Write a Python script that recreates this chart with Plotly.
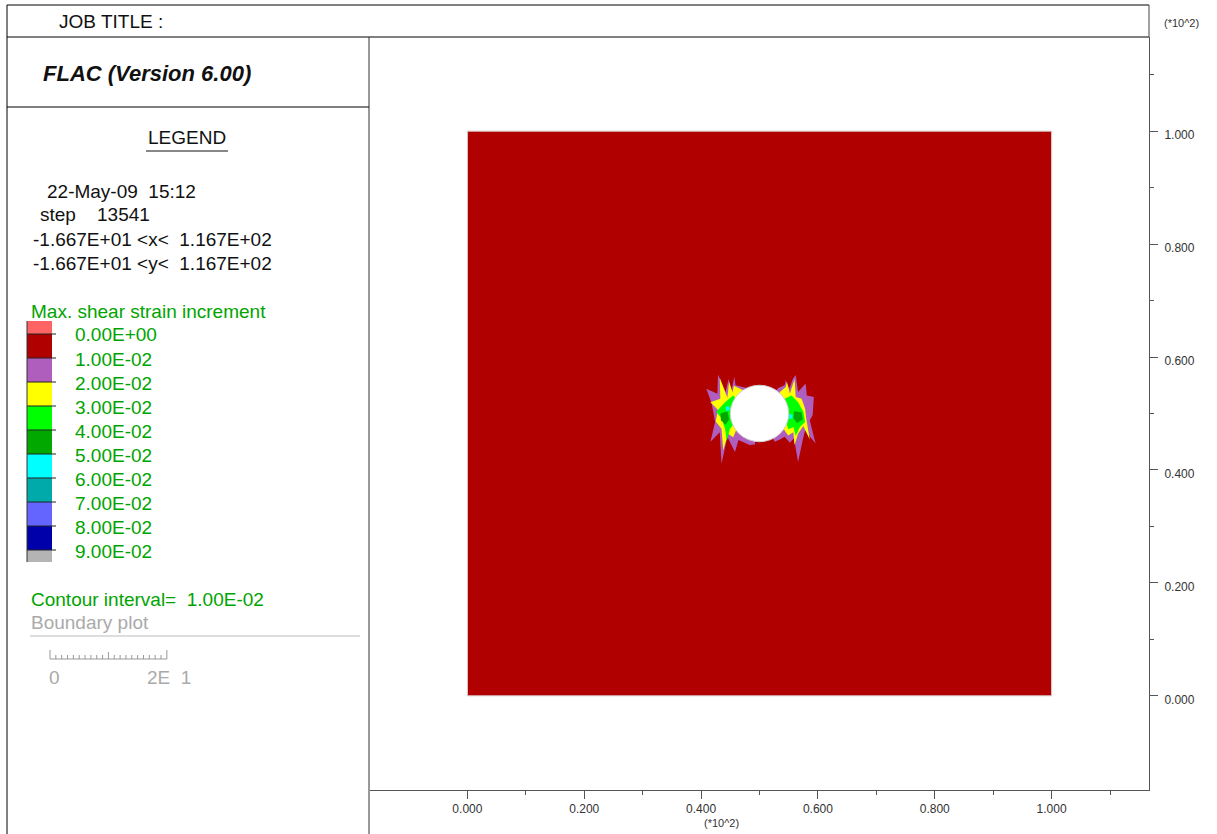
import plotly.graph_objects as go

# ---------------------------------------------------------------- data
# model extent (m) and tunnel
grid_x = [0.0, 100.0]
grid_y = [0.0, 100.0]
tunnel_center = (50.0, 50.0)
tunnel_radius = 5.0

# contour levels of max. shear strain increment and band colours
levels = [0.00, 0.01, 0.02, 0.03, 0.04, 0.05, 0.06, 0.07, 0.08, 0.09]
level_labels = ["0.00E+00", "1.00E-02", "2.00E-02", "3.00E-02", "4.00E-02",
                "5.00E-02", "6.00E-02", "7.00E-02", "8.00E-02", "9.00E-02"]
band_colors = ["#FF6464", "#B00000", "#B05EBE", "#FFFF00", "#00FF00", "#00A800",
               "#00FFFF", "#00AAAA", "#6464FF", "#0000AA", "#B4B4B4"]

# shear-strain zones around the opening: (band index, x list, y list)
zone_purple_left_x = [47.8, 45.9, 45.7, 45.2, 44.7, 44.2, 42.9, 42.8, 40.9, 41.8, 42.4, 41.6,
                      43.2, 43.5, 44.5, 45.8, 46.4, 48.3, 49.2, 50.0]
zone_purple_left_y = [54.5, 55.0, 56.5, 54.1, 56.1, 53.8, 56.9, 53.5, 54.4, 51.8, 48.5, 45.0,
                      46.7, 41.1, 45.9, 43.2, 45.3, 44.4, 44.5, 50.0]
zone_purple_right_x = [53.2, 54.3, 54.5, 55.1, 55.7, 56.2, 56.6, 57.9, 58.1, 59.3, 59.1, 58.6,
                       59.6, 57.8, 57.4, 56.6, 55.9, 55.2, 54.3, 53.5, 52.6, 50.0]
zone_purple_right_y = [54.5, 55.0, 55.9, 54.4, 56.1, 56.8, 53.8, 55.3, 53.2, 52.9, 49.7, 48.8,
                       44.7, 47.0, 45.3, 41.4, 45.6, 44.8, 45.9, 45.4, 45.0, 50.0]
zone_yellow_left_x = [47.2, 45.6, 45.4, 44.8, 44.5, 43.2, 43.3, 41.6, 42.9, 42.5, 43.5, 43.8,
                      44.6, 45.5, 46.1, 46.4, 46.2, 46.9]
zone_yellow_left_y = [54.1, 54.9, 53.7, 55.6, 52.8, 56.3, 52.6, 52.0, 50.6, 48.6, 47.3, 43.5,
                      46.4, 45.8, 47.3, 49.7, 52.0, 53.5]
zone_yellow_right_x = [53.5, 54.5, 54.7, 55.2, 56.0, 56.2, 57.2, 57.8, 58.0, 58.6, 57.5, 56.6,
                       56.0, 55.8, 54.9, 54.1, 53.8, 53.6]
zone_yellow_right_y = [53.8, 54.7, 55.6, 53.5, 56.1, 52.9, 52.6, 50.9, 49.1, 45.4, 47.8, 46.4,
                       44.4, 46.7, 46.1, 47.3, 49.7, 52.0]
zone_green_left_x = [45.5, 44.1, 42.6, 43.5, 44.1, 44.4, 44.9, 45.5, 45.9, 46.2]
zone_green_left_y = [53.2, 52.0, 50.3, 49.1, 47.3, 45.1, 47.2, 48.0, 50.3, 52.3]
zone_green_right_x = [54.3, 55.5, 56.6, 57.5, 57.8, 56.9, 56.2, 55.8, 54.9, 54.5, 54.1]
zone_green_right_y = [52.6, 53.2, 52.0, 50.3, 48.5, 47.6, 46.0, 47.6, 47.2, 48.8, 50.9]
zone_dkgreen_left_x = [43.3, 44.5, 44.8, 44.2, 43.4]
zone_dkgreen_left_y = [50.0, 50.4, 49.0, 48.0, 48.8]
zone_dkgreen_right_x = [55.9, 57.2, 57.4, 56.4, 55.8]
zone_dkgreen_right_y = [50.4, 50.2, 48.9, 48.3, 49.2]
zone_cyan_left_x = [44.2, 44.8, 44.9, 44.3]
zone_cyan_left_y = [51.2, 51.3, 50.6, 50.4]
zone_cyan_right_x = [55.1, 55.7, 55.6, 55.1]
zone_cyan_right_y = [49.9, 49.8, 49.0, 49.1]

zones = [
    (2, zone_purple_left_x, zone_purple_left_y),
    (2, zone_purple_right_x, zone_purple_right_y),
    (3, zone_yellow_left_x, zone_yellow_left_y),
    (3, zone_yellow_right_x, zone_yellow_right_y),
    (4, zone_green_left_x, zone_green_left_y),
    (4, zone_green_right_x, zone_green_right_y),
    (5, zone_dkgreen_left_x, zone_dkgreen_left_y),
    (5, zone_dkgreen_right_x, zone_dkgreen_right_y),
    (6, zone_cyan_left_x, zone_cyan_left_y),
    (6, zone_cyan_right_x, zone_cyan_right_y),
]

# axis ticks (m); labels are shown in units of 10^2 m
axis_range = [-16.67, 116.67]
major_ticks = [0, 20, 40, 60, 80, 100]
minor_ticks = [10, 30, 50, 70, 90, 110]
tick_text = [f"{v / 100:.3f}" for v in major_ticks]

legend_lines = ["22-May-09\u00a0\u00a015:12",
                "step\u00a0\u00a0\u00a0\u00a013541",
                "-1.667E+01 &lt;x&lt;\u00a0\u00a01.167E+02",
                "-1.667E+01 &lt;y&lt;\u00a0\u00a01.167E+02"]

# ---------------------------------------------------------------- page geometry
W, H = 1217, 834
PLOT_L, PLOT_R, PLOT_T, PLOT_B = 370, 1149, 37, 790
FONT = "Arial, 'Liberation Sans', sans-serif"
GREEN = "#00A400"


def fx(px):
    return px / W


def fy(py):
    return 1 - py / H


fig = go.Figure()

# contoured zones
for band, xs, ys in zones:
    fig.add_trace(go.Scatter(x=xs, y=ys, mode="lines", fill="toself",
                             fillcolor=band_colors[band], line=dict(width=0),
                             hoverinfo="skip", showlegend=False))

shapes = []
annotations = []

# background band (0 - 1E-02) covering the model
shapes.append(dict(type="rect", xref="x", yref="y", layer="below",
                   x0=grid_x[0], x1=grid_x[1], y0=grid_y[0], y1=grid_y[1],
                   fillcolor=band_colors[1], line=dict(color="#D8D0D0", width=1)))
# excavated opening
cx, cy = tunnel_center
shapes.append(dict(type="circle", xref="x", yref="y", layer="above",
                   x0=cx - tunnel_radius, x1=cx + tunnel_radius,
                   y0=cy - tunnel_radius, y1=cy + tunnel_radius,
                   fillcolor="white", line=dict(color="#D0D0D0", width=1)))


def pline(x0, y0, x1, y1, color="#000000", width=1):
    shapes.append(dict(type="line", xref="paper", yref="paper",
                       x0=fx(x0), y0=fy(y0), x1=fx(x1), y1=fy(y1),
                       line=dict(color=color, width=width)))


def ptext(text, x, y, size=19, color="#111111", anchor="left", **kw):
    annotations.append(dict(text=text, xref="paper", yref="paper",
                            x=fx(x), y=fy(y), xanchor=anchor, yanchor="middle",
                            showarrow=False, borderpad=0,
                            font=dict(family=FONT, size=size, color=color), **kw))


# page frame
pline(7, 5, PLOT_R, 5)
pline(7, PLOT_T, PLOT_R, PLOT_T)
pline(7, 5, 7, H)
pline(PLOT_L - 1, PLOT_T, PLOT_L - 1, H, color="#333333")
pline(7, 107, PLOT_L - 1, 107)
pline(PLOT_R, 5, PLOT_R, PLOT_T, color="#444444")

ptext("JOB TITLE :", 58, 22)
ptext("<b><i>FLAC (Version 6.00)</i></b>", 42, 73, size=22)
ptext("LEGEND", 187, 138, anchor="center")
pline(146, 151, 228, 151, color="#111111")
for i, line in enumerate(legend_lines):
    ptext(line, [46, 39, 32, 32][i], 191 + 24 * i)

# colour key
ptext("Max. shear strain increment", 30, 311, color=GREEN)
key_x0, key_x1, key_tick = 27, 52, 56
key_top, key_first, key_step = 321, 334, 24
edges = [key_top] + [key_first + key_step * k for k in range(len(levels))] + \
        [key_first + key_step * (len(levels) - 1) + 12]
for k, color in enumerate(band_colors):
    shapes.append(dict(type="rect", xref="paper", yref="paper",
                       x0=fx(key_x0), x1=fx(key_x1), y0=fy(edges[k + 1]), y1=fy(edges[k]),
                       fillcolor=color, line=dict(width=0)))
for k, lab in enumerate(level_labels):
    yb = key_first + key_step * k
    pline(key_x0, yb, key_tick, yb, color="#222222")
    ptext(lab, 74, yb + 1, color=GREEN)
pline(key_x0, key_top, key_x0, edges[-1], color="#333333")

ptext("Contour interval=\u00a0\u00a01.00E-02", 30, 599, color=GREEN)
ptext("Boundary plot", 30, 622, color="#AAAAAA")
pline(30, 636, 360, 636, color="#BBBBBB")

# scale bar: 20 m drawn with the plot's own x scale
px_per_m = (PLOT_R - PLOT_L) / (axis_range[1] - axis_range[0])
bar_x0, bar_y = 50, 659
bar_len = 20 * px_per_m
pline(bar_x0, bar_y, bar_x0 + bar_len, bar_y, color="#999999")
for k in range(21):
    h = 9 if k in (0, 20) else (7 if k == 10 else 4)
    xk = bar_x0 + bar_len * k / 20
    pline(xk, bar_y, xk, bar_y - h, color="#999999")
ptext("0", 55, 677, color="#AAAAAA", anchor="center")
ptext("2E\u00a0\u00a01", 146, 677, color="#AAAAAA")

# axis multipliers
ptext("(*10^2)", 1181, 23, size=11, color="#333333", anchor="center")
ptext("(*10^2)", 721, 823, size=11, color="#333333", anchor="center")

axis_common = dict(range=axis_range, tickmode="array", tickvals=major_ticks,
                   ticktext=tick_text, ticks="outside", ticklen=8, tickwidth=1,
                   tickcolor="#555555", showgrid=False, zeroline=False,
                   showline=True, linecolor="#555555", linewidth=1,
                   tickfont=dict(family=FONT, size=12, color="#333333"),
                   minor=dict(tickvals=minor_ticks, ticks="outside", ticklen=4,
                              tickcolor="#555555", showgrid=False),
                   fixedrange=True)

fig.update_layout(
    width=W, height=H,
    margin=dict(l=0, r=0, t=0, b=0),
    paper_bgcolor="white", plot_bgcolor="white",
    showlegend=False,
    xaxis=dict(domain=[fx(PLOT_L), fx(PLOT_R)], anchor="y", side="bottom",
               **axis_common),
    yaxis=dict(domain=[fy(PLOT_B), fy(PLOT_T)], anchor="x", side="right",
               ticklabelstandoff=4, ticklabelshift=4, **axis_common),
    shapes=shapes,
    annotations=annotations,
)

fig.write_html("out.html")
